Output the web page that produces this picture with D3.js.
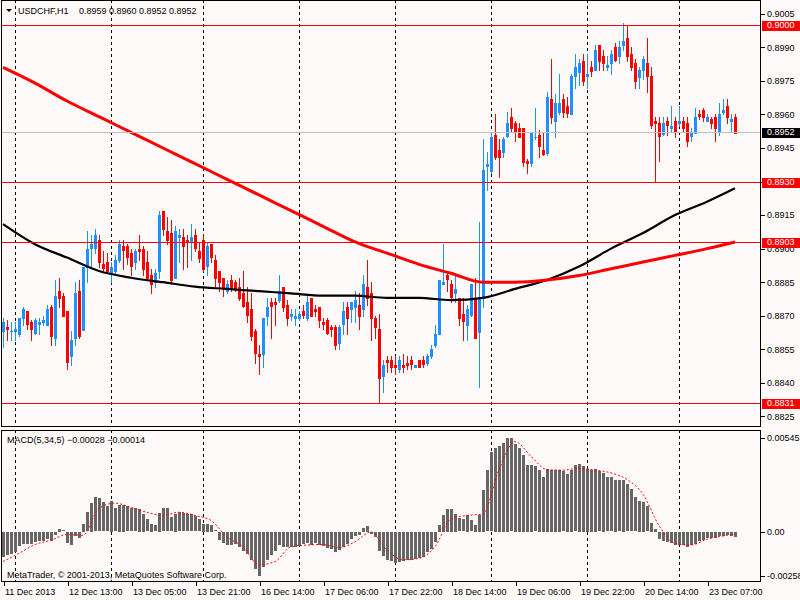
<!DOCTYPE html>
<html>
  <head>
    <meta charset="utf-8">
    <title>USDCHF,H1</title>
    <script src="https://cdn.jsdelivr.net/npm/d3@7"></script>
    <style>
      body { margin: 0; background: #fffafa; }
      #chart { display: block; font-family: "Liberation Sans", Arial, sans-serif; font-size: 9px; }
      .frame { fill: none; stroke: #000; shape-rendering: crispEdges; }
      .axis text { fill: #000; font-size: 9px; font-family: "Liberation Sans", Arial, sans-serif; }
      .axis line { stroke: #000; shape-rendering: crispEdges; }
      .separator { stroke: #000; stroke-dasharray: 3, 3; shape-rendering: crispEdges; }
      .wick { shape-rendering: crispEdges; }
      .body { shape-rendering: crispEdges; }
      .level { shape-rendering: crispEdges; }
    </style>
  </head>

  <body>
    <svg id="chart" width="800" height="600">
      <defs>
        <clipPath id="mainClip"><rect x="1" y="0" width="760" height="427"></rect></clipPath>
        <clipPath id="macdClip"><rect x="1" y="430" width="760" height="152"></rect></clipPath>
      </defs>
      <g id="mainGroup" clip-path="url(#mainClip)"></g>
      <g id="macdGroup" clip-path="url(#macdClip)"></g>
      <g id="priceAxis" class="axis"></g>
      <g id="macdAxis" class="axis"></g>
      <g id="timeAxis" class="axis"></g>
      <g id="labelGroup"></g>
    </svg>

    <script>
      // hourly bars, 11 Dec 2013 21:00 onwards
      var opens = [
        0.8863,0.8865,0.8863,0.8863,0.8862,0.8869,0.8872,0.8867,0.8862,0.8866,
        0.8867,0.8866,0.8874,0.8860,0.8881,0.8879,0.8872,0.8852,0.8860,0.8881,
        0.8864,0.8892,0.8900,0.8900,0.8904,0.8893,0.8894,0.8889,0.8890,0.8895,
        0.8901,0.8901,0.8898,0.8894,0.8900,0.8900,0.8894,0.8888,0.8885,0.8890,
        0.8917,0.8908,0.8907,0.8887,0.8905,0.8905,0.8904,0.8903,0.8906,0.8899,
        0.8904,0.8892,0.8902,0.8895,0.8890,0.8887,0.8881,0.8886,0.8885,0.8883,
        0.8880,0.8876,0.8873,0.8863,0.8853,0.8853,0.8870,0.8876,0.8876,0.8877,
        0.8883,0.8875,0.8870,0.8869,0.8869,0.8872,0.8869,0.8878,0.8873,0.8874,
        0.8867,0.8868,0.8865,0.8865,0.8858,0.8866,0.8874,0.8873,0.8874,0.8875,
        0.8873,0.8883,0.8880,0.8869,0.8864,0.8843,0.8850,0.8850,0.8848,0.8846,
        0.8848,0.8849,0.8850,0.8847,0.8850,0.8850,0.8849,0.8852,0.8857,0.8862,
        0.8884,0.8888,0.8884,0.8880,0.8878,0.8871,0.8866,0.8870,0.8878,0.8863,
        0.8878,0.8937,0.8935,0.8951,0.8944,0.8943,0.8950,0.8959,0.8956,0.8954,
        0.8954,0.8939,0.8938,0.8950,0.8951,0.8944,0.8943,0.8967,0.8957,0.8961,
        0.8967,0.8964,0.8960,0.8977,0.8979,0.8984,0.8977,0.8981,0.8980,0.8991,
        0.8986,0.8981,0.8983,0.8990,0.8986,0.8991,0.8994,0.8987,0.8983,0.8977,
        0.8980,0.8983,0.8977,0.8957,0.8956,0.8951,0.8957,0.8954,0.8957,0.8956,
        0.8957,0.8956,0.8950,0.8952,0.8960,0.8962,0.8957,0.8958,0.8959,0.8952,
        0.8961,0.8964,0.8957,0.8959
      ];
      var highs = [
        0.8869,0.8868,0.8867,0.8867,0.8869,0.8874,0.8872,0.8868,0.8869,0.8869,
        0.8870,0.8875,0.8875,0.8886,0.8887,0.8880,0.8872,0.8863,0.8885,0.8886,
        0.8892,0.8908,0.8906,0.8909,0.8906,0.8899,0.8898,0.8894,0.8897,0.8904,
        0.8904,0.8902,0.8900,0.8900,0.8906,0.8901,0.8899,0.8891,0.8891,0.8917,
        0.8917,0.8914,0.8913,0.8910,0.8909,0.8909,0.8906,0.8911,0.8909,0.8903,
        0.8906,0.8903,0.8902,0.8897,0.8890,0.8887,0.8886,0.8888,0.8886,0.8887,
        0.8890,0.8883,0.8880,0.8864,0.8857,0.8869,0.8878,0.8878,0.8878,0.8888,
        0.8883,0.8877,0.8873,0.8873,0.8872,0.8875,0.8879,0.8878,0.8875,0.8874,
        0.8869,0.8869,0.8866,0.8866,0.8866,0.8876,0.8876,0.8876,0.8881,0.8880,
        0.8888,0.8895,0.8885,0.8870,0.8871,0.8850,0.8852,0.8852,0.8852,0.8852,
        0.8853,0.8852,0.8852,0.8848,0.8850,0.8852,0.8853,0.8857,0.8866,0.8886,
        0.8902,0.8890,0.8886,0.8889,0.8878,0.8878,0.8875,0.8884,0.8887,0.8912,
        0.8949,0.8943,0.8952,0.8960,0.8949,0.8950,0.8961,0.8963,0.8957,0.8956,
        0.8954,0.8940,0.8952,0.8963,0.8953,0.8952,0.8970,0.8985,0.8969,0.8978,
        0.8969,0.8968,0.8978,0.8987,0.8985,0.8987,0.8987,0.8984,0.8991,0.8991,
        0.8989,0.8986,0.8989,0.8992,0.8993,0.9001,0.9000,0.8990,0.8985,0.8981,
        0.8986,0.8994,0.8981,0.8959,0.8959,0.8959,0.8959,0.8964,0.8959,0.8964,
        0.8959,0.8959,0.8954,0.8963,0.8962,0.8963,0.8960,0.8959,0.8960,0.8965,
        0.8967,0.8967,0.8960,0.8960
      ];
      var lows = [
        0.8856,0.8859,0.8859,0.8859,0.8861,0.8866,0.8864,0.8859,0.8862,0.8862,
        0.8866,0.8866,0.8857,0.8857,0.8874,0.8870,0.8846,0.8848,0.8857,0.8860,
        0.8864,0.8885,0.8892,0.8898,0.8892,0.8890,0.8889,0.8885,0.8888,0.8894,
        0.8891,0.8893,0.8888,0.8891,0.8895,0.8888,0.8886,0.8880,0.8883,0.8887,
        0.8906,0.8902,0.8884,0.8887,0.8894,0.8891,0.8892,0.8895,0.8899,0.8894,
        0.8890,0.8888,0.8894,0.8883,0.8881,0.8879,0.8880,0.8881,0.8881,0.8877,
        0.8874,0.8867,0.8859,0.8849,0.8844,0.8847,0.8866,0.8860,0.8866,0.8876,
        0.8872,0.8866,0.8868,0.8866,0.8868,0.8869,0.8868,0.8870,0.8870,0.8865,
        0.8864,0.8862,0.8861,0.8855,0.8855,0.8862,0.8862,0.8867,0.8867,0.8864,
        0.8870,0.8875,0.8859,0.8860,0.8831,0.8836,0.8845,0.8845,0.8844,0.8845,
        0.8845,0.8846,0.8846,0.8847,0.8847,0.8847,0.8848,0.8851,0.8856,0.8862,
        0.8884,0.8881,0.8876,0.8876,0.8866,0.8859,0.8859,0.8870,0.8860,0.8838,
        0.8874,0.8926,0.8934,0.8940,0.8932,0.8941,0.8950,0.8952,0.8948,0.8950,
        0.8937,0.8934,0.8937,0.8949,0.8941,0.8942,0.8942,0.8956,0.8950,0.8960,
        0.8959,0.8959,0.8960,0.8972,0.8973,0.8973,0.8972,0.8977,0.8980,0.8980,
        0.8980,0.8980,0.8978,0.8984,0.8983,0.8989,0.8984,0.8980,0.8972,0.8972,
        0.8976,0.8970,0.8954,0.8930,0.8939,0.8951,0.8951,0.8952,0.8950,0.8955,
        0.8952,0.8946,0.8948,0.8952,0.8958,0.8957,0.8957,0.8954,0.8948,0.8951,
        0.8960,0.8956,0.8952,0.8952
      ];
      var closes = [
        0.8867,0.8864,0.8863,0.8864,0.8869,0.8873,0.8866,0.8864,0.8868,0.8867,
        0.8868,0.8873,0.8861,0.8879,0.8878,0.8870,0.8849,0.8859,0.8880,0.8861,
        0.8892,0.8900,0.8902,0.8906,0.8894,0.8891,0.8890,0.8892,0.8895,0.8902,
        0.8899,0.8896,0.8892,0.8899,0.8899,0.8891,0.8887,0.8884,0.8889,0.8915,
        0.8909,0.8904,0.8886,0.8908,0.8906,0.8901,0.8903,0.8905,0.8900,0.8896,
        0.8891,0.8901,0.8896,0.8887,0.8885,0.8882,0.8884,0.8883,0.8882,0.8878,
        0.8874,0.8870,0.8861,0.8853,0.8852,0.8869,0.8874,0.8874,0.8875,0.8881,
        0.8874,0.8869,0.8871,0.8870,0.8871,0.8870,0.8876,0.8870,0.8872,0.8868,
        0.8866,0.8862,0.8864,0.8857,0.8865,0.8872,0.8869,0.8876,0.8877,0.8870,
        0.8884,0.8878,0.8869,0.8865,0.8842,0.8848,0.8849,0.8847,0.8847,0.8850,
        0.8847,0.8848,0.8848,0.8848,0.8847,0.8848,0.8852,0.8855,0.8862,0.8886,
        0.8885,0.8886,0.8878,0.8882,0.8869,0.8868,0.8873,0.8884,0.8860,0.8878,
        0.8935,0.8938,0.8950,0.8941,0.8941,0.8949,0.8956,0.8954,0.8952,0.8950,
        0.8939,0.8938,0.8952,0.8950,0.8946,0.8942,0.8968,0.8959,0.8965,0.8965,
        0.8961,0.8961,0.8977,0.8981,0.8983,0.8975,0.8978,0.8979,0.8989,0.8984,
        0.8983,0.8982,0.8987,0.8984,0.8990,0.8993,0.8986,0.8981,0.8975,0.8980,
        0.8985,0.8977,0.8955,0.8956,0.8950,0.8956,0.8955,0.8955,0.8952,0.8957,
        0.8954,0.8948,0.8952,0.8959,0.8959,0.8959,0.8959,0.8956,0.8954,0.8960,
        0.8962,0.8959,0.8958,0.8952
      ];

      // moving averages, read at every 8th bar
      var maBars = [0, 8, 16, 24, 32, 40, 48, 56, 64, 72, 80, 88, 96, 104, 112, 120, 128, 136, 144, 152, 160, 168, 176, 183];
      var maRed = [
        0.8981,0.8974,0.8966,0.8959,0.8952,0.8945,0.8938,0.8931,0.8924,0.8917,0.8910,0.8903,
        0.8898,0.8893,0.8889,0.8885,0.8885,0.8886,0.8888,0.8891,0.8894,0.8897,0.8900,0.8903
      ];
      var maBlack = [
        0.8911,0.8902,0.8896,0.8890,0.8887,0.8885,0.8883,0.8882,0.8881,0.8880,0.8879,0.8879,
        0.8878,0.8878,0.8877,0.8878,0.8882,0.8886,0.8892,0.8900,0.8907,0.8915,0.8921,0.8927
      ];

      // MACD(5,34,5) histogram, one value per bar
      var macd = [
        -0.00145,-0.00136,-0.00126,-0.00117,-0.00084,-0.00069,-0.00069,-0.00069,-0.00059,-0.00050,
        -0.00050,-0.00040,-0.00050,-0.00015,0.00017,0.00008,-0.00063,-0.00078,-0.00021,-0.00034,
        0.00046,0.00113,0.00166,0.00199,0.00193,0.00170,0.00147,0.00180,0.00136,0.00155,
        0.00155,0.00147,0.00136,0.00136,0.00132,0.00103,0.00071,0.00044,0.00036,0.00109,
        0.00136,0.00136,0.00084,0.00103,0.00113,0.00107,0.00101,0.00101,0.00090,0.00071,
        0.00046,0.00046,0.00040,0.00008,-0.00044,-0.00063,-0.00073,-0.00078,-0.00069,-0.00088,
        -0.00113,-0.00126,-0.00164,-0.00216,-0.00258,-0.00203,-0.00164,-0.00136,-0.00113,-0.00078,
        -0.00088,-0.00088,-0.00088,-0.00088,-0.00082,-0.00069,-0.00065,-0.00075,-0.00063,-0.00075,
        -0.00084,-0.00094,-0.00098,-0.00117,-0.00103,-0.00088,-0.00069,-0.00040,-0.00025,-0.00017,
        0.00021,0.00033,-0.00011,-0.00031,-0.00113,-0.00141,-0.00164,-0.00170,-0.00178,-0.00174,
        -0.00170,-0.00164,-0.00164,-0.00155,-0.00151,-0.00145,-0.00117,-0.00098,-0.00059,0.00040,
        0.00098,0.00132,0.00132,0.00103,0.00078,0.00071,0.00099,0.00065,0.00040,0.00098,
        0.00243,0.00356,0.00461,0.00489,0.00501,0.00518,0.00545,0.00543,0.00511,0.00486,
        0.00447,0.00390,0.00390,0.00380,0.00361,0.00319,0.00365,0.00358,0.00361,0.00358,
        0.00352,0.00338,0.00358,0.00386,0.00396,0.00384,0.00365,0.00361,0.00367,0.00352,
        0.00342,0.00317,0.00317,0.00300,0.00298,0.00300,0.00275,0.00247,0.00199,0.00180,
        0.00174,0.00147,0.00052,0.00017,-0.00040,-0.00055,-0.00059,-0.00063,-0.00075,-0.00078,
        -0.00078,-0.00088,-0.00078,-0.00069,-0.00050,-0.00044,-0.00036,-0.00034,-0.00036,-0.00025,
        -0.00021,-0.00017,-0.00021,-0.00028
      ];

      // signal line, read at every 4th bar
      var signalBars = [
        0, 4, 8, 12, 16, 20, 24, 28, 32, 36, 40, 44, 48, 52, 56, 60, 64, 68, 72, 76, 80, 84, 88, 92,
        96, 100, 104, 108, 112, 116, 120, 124, 128, 132, 136, 140, 144, 148, 152, 156, 160, 164, 168,
        172, 176, 180, 183
      ];
      var signal = [
        -0.00174,-0.00126,-0.00075,-0.00050,-0.00017,-0.00021,0.00136,0.00166,0.00141,0.00113,
        0.00094,0.00113,0.00094,0.00065,-0.00031,-0.00088,-0.00193,-0.00174,-0.00088,-0.00078,
        -0.00075,-0.00094,-0.00059,-0.00002,-0.00107,-0.00164,-0.00155,-0.00088,0.00075,0.00094,
        0.00103,0.00361,0.00524,0.00438,0.00361,0.00358,0.00369,0.00358,0.00342,0.00304,
        0.00218,0.00036,-0.00069,-0.00078,-0.00044,-0.00025,-0.00014
      ];

      // price levels and axis labels
      var redLevels = [0.9000, 0.8930, 0.8903, 0.8831];
      var bidLevel = 0.8952;
      var priceTicks = [0.9005, 0.8990, 0.8975, 0.8960, 0.8945, 0.8930, 0.8915, 0.8900, 0.8885, 0.8870, 0.8855, 0.8840, 0.8825];
      var macdTicks = [0.00545, 0, -0.00258];
      var macdTickLabels = ["0.00545", "0.00", "-0.00258"];
      var timeBars = [0, 16, 32, 48, 64, 80, 96, 112, 128, 144, 160, 176];
      var timeLabels = [
        "11 Dec 2013", "12 Dec 13:00", "13 Dec 05:00", "13 Dec 21:00", "16 Dec 14:00", "17 Dec 06:00",
        "17 Dec 22:00", "18 Dec 14:00", "19 Dec 06:00", "19 Dec 22:00", "20 Dec 14:00", "23 Dec 07:00"
      ];
      var dayStartBars = [3, 27, 50, 74, 98, 122, 146, 169];

      // declare page elements
      chart = d3.select("#chart");
      mainGroup = d3.select("#mainGroup");
      macdGroup = d3.select("#macdGroup");
      labelGroup = d3.select("#labelGroup");

      bars = d3.range(opens.length);
      bullColour = "#1e90ff";
      bearColour = "#ff0000";

      // scales
      x = d3.scaleLinear()
        .domain([0, bars.length - 1])
        .range([3, 3 + 4 * (bars.length - 1)]);
      y = d3.scaleLinear()
        .domain([0.8825, 0.9005])
        .range([416.4, 13.8]);
      yMacd = d3.scaleLinear()
        .domain([-0.00258, 0.00545])
        .range([576, 438]);

      function px(i) {
        return Math.round(x(i)) + 0.5;
      }

      // day separators
      [[mainGroup, 0, 427], [macdGroup, 430, 582]].forEach(function(p) {
        p[0].selectAll(".separator")
          .data(dayStartBars)
          .enter().append("line")
            .classed("separator", true)
            .attr("x1", px)
            .attr("x2", px)
            .attr("y1", p[1])
            .attr("y2", p[2]);
      });

      // candles
      candles = mainGroup.selectAll(".candle")
        .data(bars)
        .enter().append("g")
          .classed("candle", true)
          .attr("fill", function(i) { return closes[i] >= opens[i] ? bullColour : bearColour; })
          .attr("stroke", function(i) { return closes[i] >= opens[i] ? bullColour : bearColour; });
      candles.append("line")
        .classed("wick", true)
        .attr("x1", px)
        .attr("x2", px)
        .attr("y1", function(i) { return Math.round(y(highs[i])); })
        .attr("y2", function(i) { return Math.round(y(lows[i])) + 1; });
      candles.append("rect")
        .classed("body", true)
        .attr("stroke", "none")
        .attr("x", function(i) { return Math.round(x(i)) - 1; })
        .attr("width", 3)
        .attr("y", function(i) { return Math.round(y(Math.max(opens[i], closes[i]))); })
        .attr("height", function(i) {
          return Math.max(1, Math.round(Math.abs(y(opens[i]) - y(closes[i]))) + 1);
        });

      // moving averages
      maLine = d3.line()
        .x(function(d) { return x(d[0]); })
        .y(function(d) { return y(d[1]); })
        .curve(d3.curveMonotoneX);
      mainGroup.append("path")
        .attr("d", maLine(d3.zip(maBars, maBlack)))
        .attr("fill", "none")
        .attr("stroke", "#000")
        .attr("stroke-width", 2.2);
      mainGroup.append("path")
        .attr("d", maLine(d3.zip(maBars, maRed)))
        .attr("fill", "none")
        .attr("stroke", "#ff0000")
        .attr("stroke-width", 3);

      // horizontal levels
      mainGroup.selectAll(".level")
        .data(redLevels)
        .enter().append("line")
          .classed("level", true)
          .attr("x1", 1)
          .attr("x2", 761)
          .attr("y1", function(d) { return Math.round(y(d)) + 0.5; })
          .attr("y2", function(d) { return Math.round(y(d)) + 0.5; })
          .attr("stroke", "#ff0000");
      mainGroup.append("line")
        .classed("level", true)
        .attr("x1", 1)
        .attr("x2", 761)
        .attr("y1", Math.round(y(bidLevel)) + 0.5)
        .attr("y2", Math.round(y(bidLevel)) + 0.5)
        .attr("stroke", "#c0c0c0");

      // MACD histogram and signal
      macdGroup.selectAll(".hist")
        .data(bars)
        .enter().append("rect")
          .classed("hist", true)
          .attr("shape-rendering", "crispEdges")
          .attr("fill", "#666666")
          .attr("x", function(i) { return Math.round(x(i)) - 1; })
          .attr("width", 3)
          .attr("y", function(i) { return Math.round(Math.min(yMacd(0), yMacd(macd[i]))); })
          .attr("height", function(i) { return Math.max(1, Math.round(Math.abs(yMacd(macd[i]) - yMacd(0)))); });
      signalLine = d3.line()
        .x(function(d) { return x(d[0]); })
        .y(function(d) { return yMacd(d[1]); })
        .curve(d3.curveMonotoneX);
      macdGroup.append("path")
        .attr("d", signalLine(d3.zip(signalBars, signal)))
        .attr("fill", "none")
        .attr("stroke", "#ff0000")
        .attr("stroke-width", 1)
        .attr("stroke-dasharray", "2,2");

      // frames
      chart.append("rect").classed("frame", true)
        .attr("x", 1.5).attr("y", 0.5).attr("width", 759).attr("height", 426);
      chart.append("rect").classed("frame", true)
        .attr("x", 1.5).attr("y", 430.5).attr("width", 759).attr("height", 151);

      // axes
      priceAxis = d3.axisRight(y)
        .tickValues(priceTicks)
        .tickSizeInner(4)
        .tickSizeOuter(0)
        .tickPadding(2)
        .tickFormat(d3.format(".4f"));
      d3.select("#priceAxis")
        .attr("transform", "translate(761, 0)")
        .call(priceAxis)
        .call(function(g) { g.select(".domain").remove(); });

      macdAxis = d3.axisRight(yMacd)
        .tickValues(macdTicks)
        .tickSizeInner(4)
        .tickSizeOuter(0)
        .tickPadding(2)
        .tickFormat(function(d, i) { return macdTickLabels[i]; });
      d3.select("#macdAxis")
        .attr("transform", "translate(761, 0)")
        .call(macdAxis)
        .call(function(g) { g.select(".domain").remove(); });

      timeAxis = d3.axisBottom(x)
        .tickValues(timeBars)
        .tickSizeInner(4)
        .tickSizeOuter(0)
        .tickFormat(function(d, i) { return timeLabels[i]; });
      d3.select("#timeAxis")
        .attr("transform", "translate(0.5, 582)")
        .call(timeAxis)
        .call(function(g) { g.select(".domain").remove(); });
      d3.selectAll("#timeAxis text")
        .attr("text-anchor", "start")
        .attr("x", 1)
        .attr("y", 6.6);

      // price level labels
      levelLabels = redLevels.map(function(d) { return { value: d, fill: "#ff0000" }; })
        .concat([{ value: bidLevel, fill: "#000000" }]);
      levelTags = labelGroup.selectAll(".tag")
        .data(levelLabels)
        .enter().append("g")
          .classed("tag", true)
          .attr("transform", function(d) { return "translate(762, " + Math.round(y(d.value)) + ")"; });
      levelTags.append("rect")
        .attr("x", 0)
        .attr("y", -4.5)
        .attr("width", 38)
        .attr("height", 10)
        .attr("fill", function(d) { return d.fill; })
        .attr("shape-rendering", "crispEdges");
      levelTags.append("text")
        .attr("x", 5)
        .attr("y", 0.5)
        .attr("dy", "0.32em")
        .attr("fill", "#fff")
        .text(function(d) { return d3.format(".4f")(d.value); });

      // window texts
      labelGroup.append("path")
        .attr("d", "M6,9 L12,9 L9,12 Z")
        .attr("fill", "#000");
      labelGroup.append("text")
        .attr("x", 18)
        .attr("y", 14)
        .text("USDCHF,H1");
      labelGroup.append("text")
        .attr("x", 79)
        .attr("y", 14)
        .text([opens[opens.length - 1], highs[highs.length - 1], lows[lows.length - 1], closes[closes.length - 1]]
          .map(d3.format(".4f")).join(" "));
      labelGroup.append("text")
        .attr("x", 7)
        .attr("y", 443)
        .text("MACD(5,34,5) " + d3.format(".5f")(macd[macd.length - 1]) + " " + d3.format(".5f")(signal[signal.length - 1]));
      labelGroup.append("text")
        .attr("x", 7)
        .attr("y", 578)
        .text("MetaTrader, © 2001-2013, MetaQuotes Software Corp.");
    </script>
  </body>
</html>
